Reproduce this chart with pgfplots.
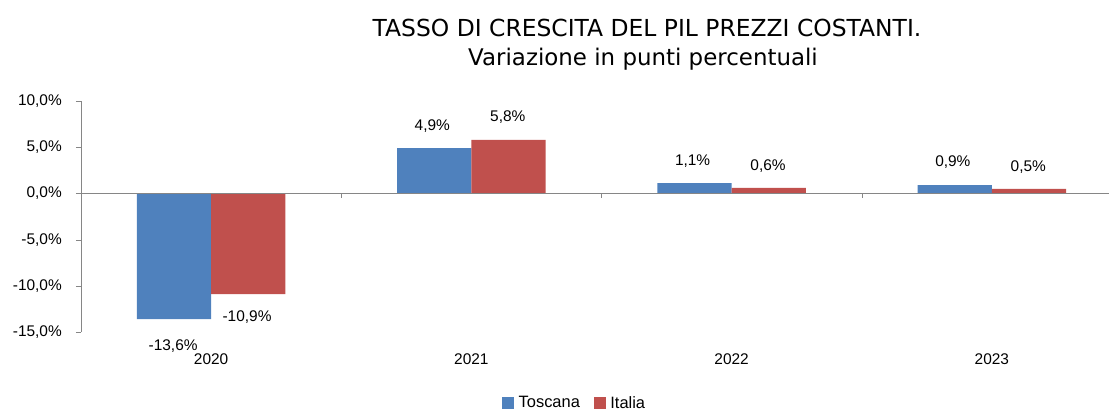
\documentclass[border=0pt]{standalone}
\usepackage{fontspec}
\setmainfont{Liberation Sans}
\newfontfamily\titlefont{DejaVu Sans}
\usepackage{pgfplots}
\pgfplotsset{compat=1.18}
\definecolor{tosc}{HTML}{4F81BD}
\definecolor{ital}{HTML}{C0504D}
\definecolor{axgray}{HTML}{868686}
\begin{document}
\begin{tikzpicture}
\path[use as bounding box] (0bp,0bp) rectangle (1109bp,-412bp);
\node[font=\titlefont\fontsize{23.5}{27}\selectfont, anchor=base, inner sep=0pt] at (647bp,-36bp) {TASSO DI CRESCITA DEL PIL PREZZI COSTANTI.};
\node[font=\titlefont\fontsize{23}{27}\selectfont, anchor=base, inner sep=0pt] at (643bp,-65bp) {Variazione in punti percentuali};
\begin{axis}[
  at={(81bp,-332bp)}, anchor=south west,
  width=1028bp, height=231bp, scale only axis,
  xmin=-0.5, xmax=3.45, ymin=-15, ymax=10,
  clip=false,
  axis x line*=bottom, axis y line*=left,
  x axis line style={draw=none},
  y axis line style={draw=axgray},
  xtick={0,1,2,3}, xticklabels={2020,2021,2022,2023},
  xtick style={draw=none},
  ytick={-15,-10,-5,0,5,10},
  yticklabels={{-15,0\%},{-10,0\%},{-5,0\%},{0,0\%},{5,0\%},{10,0\%}},
  ytick style={draw=axgray},
  tick align=outside, major tick length=5bp,
  ticklabel style={font=\fontsize{15.5}{18}\selectfont},
  xticklabel style={anchor=base, yshift=-27bp},
  yticklabel style={anchor=east, inner sep=0pt, xshift=-14bp},
  legend style={at={(0.4095,-0.307)}, anchor=west, draw=none, inner sep=0pt,
    legend columns=2, font=\fontsize{16.5}{19}\selectfont,
    /tikz/every even column/.append style={column sep=12bp}},
  legend image code/.code={\fill[#1] (0bp,-6bp) rectangle (12bp,6bp); \path (14.5bp,0bp);},
  legend cell align=left,
]
\addplot[ybar, bar width=0.285, bar shift=0pt, fill=tosc, draw=none]
  coordinates {(-0.1425,-13.6) (0.8575,4.9) (1.8575,1.1) (2.8575,0.9)};
\addlegendentry{Toscana}
\addplot[ybar, bar width=0.285, bar shift=0pt, fill=ital, draw=none]
  coordinates {(0.1425,-10.9) (1.1425,5.8) (2.1425,0.6) (3.1425,0.5)};
\addlegendentry{Italia}
\addplot[draw=none, mark=none, forget plot, nodes near coords, point meta=explicit symbolic,
  nodes near coords align={center}, every node near coord/.append style={font=\fontsize{15.5}{18}\selectfont, anchor=center}]
  coordinates {(-0.146,-16.56) [{-13,6\%}] (0.138,-13.4) [{-10,9\%}]
               (0.85,7.25) [{4,9\%}] (1.14,8.23) [{5,8\%}]
               (1.85,3.46) [{1,1\%}] (2.14,2.92) [{0,6\%}]
               (2.85,3.35) [{0,9\%}] (3.14,2.81) [{0,5\%}]};
\draw[axgray] (axis cs:-0.5,0) -- (axis cs:3.45,0);
\draw[axgray] (axis cs:0.5,0) -- ([yshift=-5bp]axis cs:0.5,0);
\draw[axgray] (axis cs:1.5,0) -- ([yshift=-5bp]axis cs:1.5,0);
\draw[axgray] (axis cs:2.5,0) -- ([yshift=-5bp]axis cs:2.5,0);
\end{axis}
\end{tikzpicture}
\end{document}
